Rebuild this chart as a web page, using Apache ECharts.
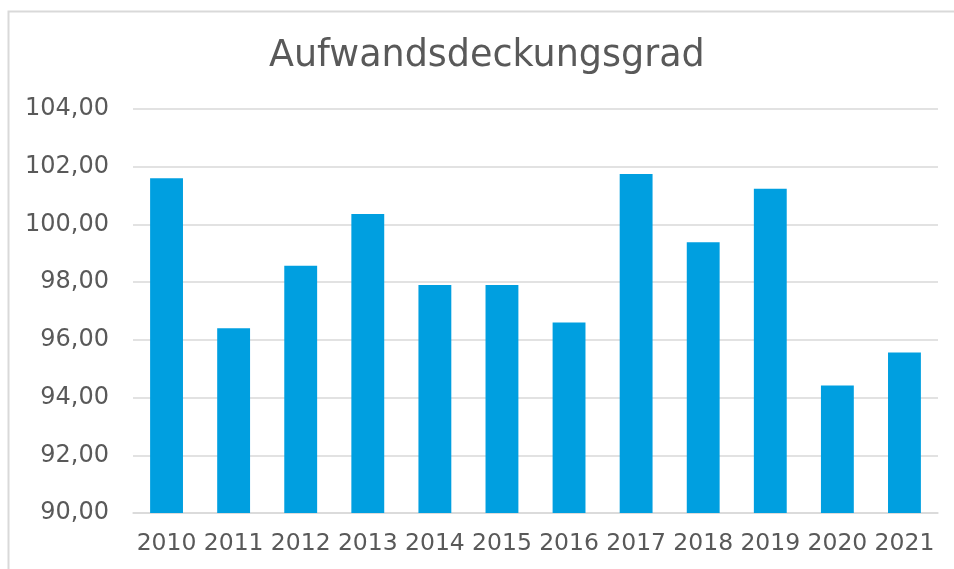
<!DOCTYPE html>
<html>
<head>
<meta charset="utf-8">
<script src="https://cdn.jsdelivr.net/npm/echarts@6/dist/echarts.min.js"></script>
<style>
  html, body { margin: 0; padding: 0; background: #fff; }
  #chart { width: 954px; height: 569px; }
</style>
</head>
<body>
<div id="chart"></div>
<script>
// Daten
const years = ['2010', '2011', '2012', '2013', '2014', '2015', '2016', '2017', '2018', '2019', '2020', '2021']
const deckungsgrad = [101.60, 96.40, 98.57, 100.36, 97.90, 97.90, 96.60, 101.75, 99.38, 101.24, 94.42, 95.56]
const yMin = 90
const yMax = 104
const yStep = 2

const chart = echarts.init(document.getElementById('chart'))

const option = {
  animation: false,
  textStyle: { fontFamily: 'DejaVu Sans' },
  graphic: [
    {
      type: 'rect',
      shape: { x: 8.5, y: 11.5, width: 960, height: 600 },
      style: { fill: 'none', stroke: '#d9d9d9', lineWidth: 2 }
    }
  ],
  title: {
    text: 'Aufwandsdeckungsgrad',
    left: 264,
    top: 33,
    textStyle: {
      color: '#595959',
      fontSize: 36.5,
      fontWeight: 'normal',
      fontFamily: 'DejaVu Sans'
    }
  },
  grid: {
    left: 133,
    right: 16,
    top: 109,
    bottom: 56
  },
  xAxis: {
    type: 'category',
    data: years,
    axisTick: { show: false },
    axisLine: { lineStyle: { color: '#d9d9d9', width: 1.5 } },
    axisLabel: {
      color: '#595959',
      fontSize: 23.5,
      margin: 19,
      interval: 0
    }
  },
  yAxis: {
    type: 'value',
    min: yMin,
    max: yMax,
    interval: yStep,
    axisLine: { show: false },
    axisTick: { show: false },
    axisLabel: {
      color: '#595959',
      fontSize: 24,
      margin: 24,
      formatter: v => v.toFixed(2).replace('.', ',')
    },
    splitLine: { lineStyle: { color: '#d9d9d9', width: 1.5 } }
  },
  series: [
    {
      type: 'bar',
      data: deckungsgrad,
      barWidth: '49%',
      itemStyle: { color: '#009fe0' }
    }
  ]
}

chart.setOption(option)
</script>
</body>
</html>
